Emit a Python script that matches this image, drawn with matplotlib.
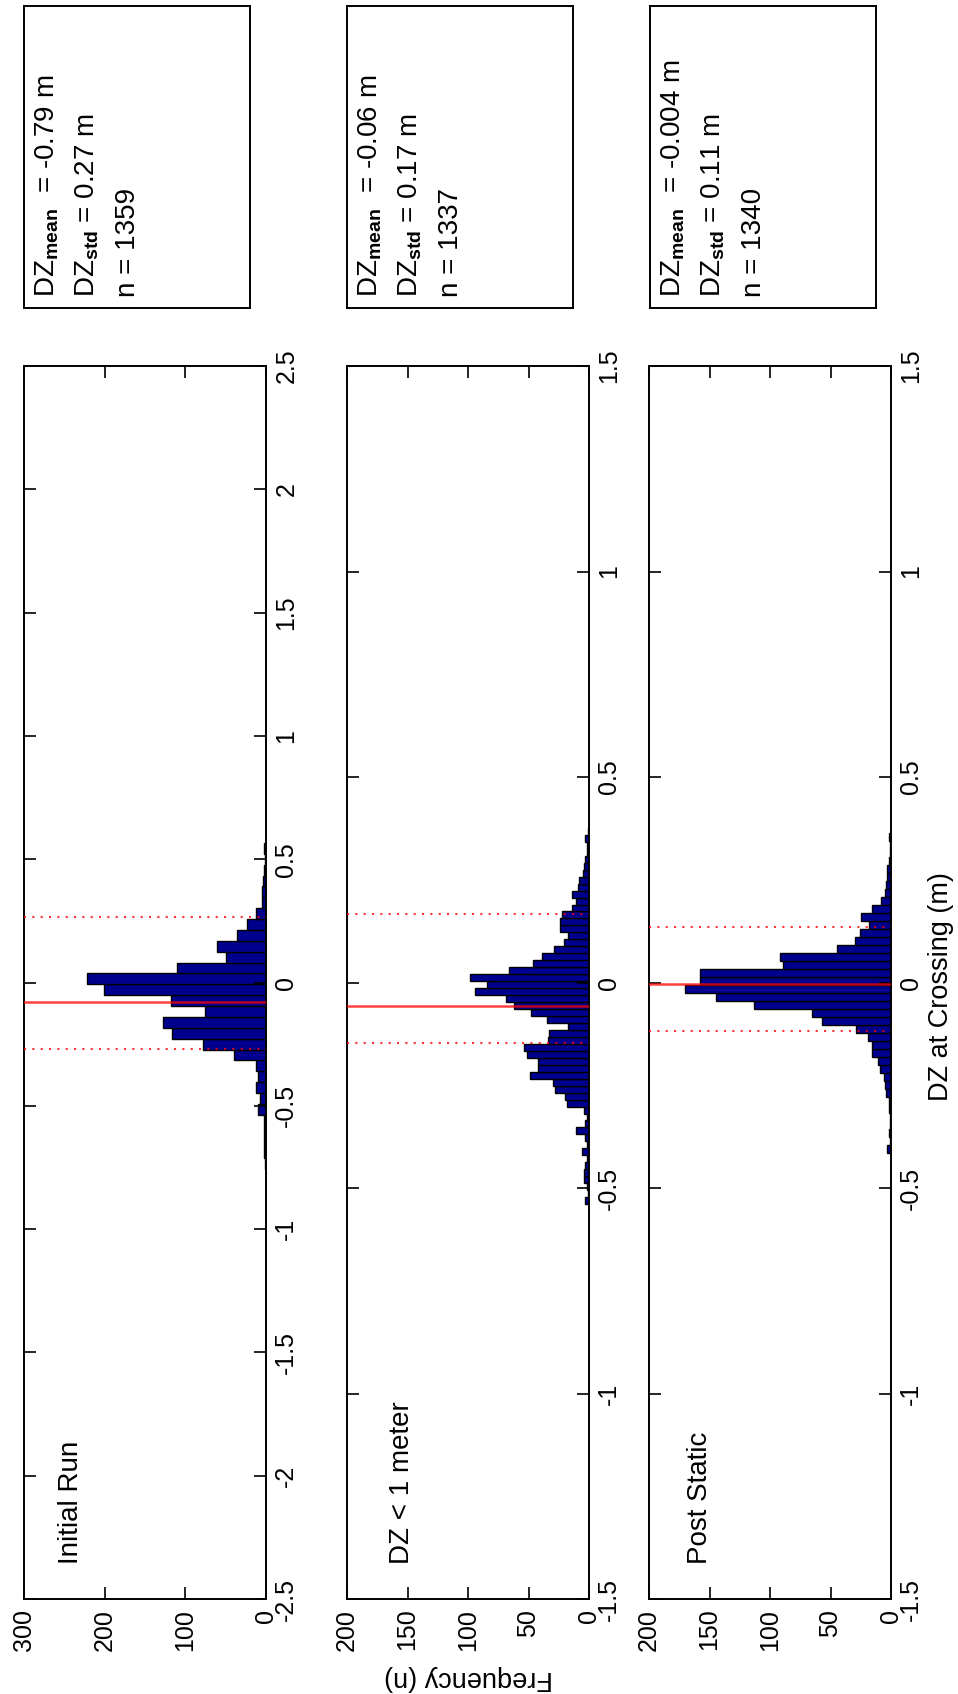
import matplotlib
matplotlib.use("Agg")
import matplotlib.pyplot as plt
import numpy as np

plt.rcParams["font.family"] = ["Liberation Sans", "DejaVu Sans"]
plt.rcParams["mathtext.fontset"] = "custom"
plt.rcParams["mathtext.rm"] = "Liberation Sans"
plt.rcParams["mathtext.bf"] = "Liberation Sans:bold"
plt.rcParams["axes.unicode_minus"] = False

# histogram data, 100 bins per run (counts listed from the first non-empty bin upward)
titles = ["Initial Run", "DZ < 1 meter", "Post Static"]
bin_lo = [-2.433, -0.9968, -1.0002]
bin_width = [0.0441, 0.01695, 0.0195]
first_bin = [38, 27, 30]
counts_initial = [1, 2, 3, 3, 3, 10, 8, 13, 10, 13, 40, 78, 116, 128, 76, 118, 201, 222,
                  110, 49, 61, 36, 23, 13, 5, 5, 4, 2, 1, 2]
counts_dz1 = [3, 1, 2, 4, 4, 3, 2, 6, 2, 3, 11, 3, 2, 4,
              18, 20, 28, 30, 49, 42, 42, 51, 54, 34, 33, 17, 35, 48, 62, 69, 94, 84, 98,
              66, 46, 39, 29, 21, 17, 24, 24, 22, 14, 11, 14, 9, 8,
              5, 4, 3, 2, 2, 3, 1]
counts_post = [3, 1, 2, 1, 1, 2, 2,
               4, 5, 6, 9, 11, 16, 16, 19, 29, 57, 65, 113, 145, 170, 158, 158, 89, 92,
               45, 30, 26, 18, 25, 16, 8,
               5, 4, 3, 3, 2, 1, 1, 2]
all_counts = [counts_initial, counts_dz1, counts_post]

mean_line = [-0.079, -0.057, -0.004]
std_lines = [(0.264, -0.271), (0.167, -0.146), (0.136, -0.117)]

mean_txt = ["-0.79", "-0.06", "-0.004"]
std_txt = ["0.27", "0.17", "0.11"]
n_txt = ["1359", "1337", "1340"]

freq_max = [300, 200, 200]
freq_ticks = [[0, 100, 200, 300], [0, 50, 100, 150, 200], [0, 50, 100, 150, 200]]
dz_lim = [2.5, 1.5, 1.5]
dz_ticks = [[-2.5, -2, -1.5, -1, -0.5, 0, 0.5, 1, 1.5, 2, 2.5],
            [-1.5, -1, -0.5, 0, 0.5, 1, 1.5],
            [-1.5, -1, -0.5, 0, 0.5, 1, 1.5]]

W, H = 958, 1694
fig = plt.figure(figsize=(W / 100, H / 100), dpi=100)


def px_rect(x0, y0, x1, y1):
    return [x0 / W, 1 - y1 / H, (x1 - x0) / W, (y1 - y0) / H]


panel_x = [24, 347, 649]
box_x = [24, 347, 650]
title_pos = [0.194, 0.227, 0.211]

for i in range(3):
    ax = fig.add_axes(px_rect(panel_x[i], 366, panel_x[i] + 242, 1599))
    full = np.zeros(100)
    c = all_counts[i]
    full[first_bin[i]:first_bin[i] + len(c)] = c
    centers = bin_lo[i] + bin_width[i] * (np.arange(100) + 0.5)
    ax.barh(centers, full, height=bin_width[i], color="#00008f",
            edgecolor="black", linewidth=1.0)
    ax.set_xlim(freq_max[i], 0)
    ax.set_ylim(-dz_lim[i], dz_lim[i])
    ax.axhline(mean_line[i], color="red", alpha=0.75, lw=1.8, zorder=3)
    for s in std_lines[i]:
        ax.axhline(s, color="red", alpha=0.8, lw=1.5, ls=(0, (1, 3)), zorder=3)

    ax.set_xticks(freq_ticks[i])
    ax.set_xticklabels([str(t) for t in freq_ticks[i]])
    ax.set_yticks(dz_ticks[i])
    ax.set_yticklabels(["%g" % t for t in dz_ticks[i]])
    ax.tick_params(axis="x", direction="in", top=True, bottom=True, length=8.5,
                   width=1.2, labelsize=18, labelrotation=90, pad=7)
    ax.tick_params(axis="y", direction="in", left=True, right=True, labelleft=False,
                   labelright=True, length=8.5, width=1.2, labelsize=18,
                   labelrotation=90, pad=6)
    for lbl in ax.get_yticklabels():
        lbl.set_va("center")
    for sp in ax.spines.values():
        sp.set_linewidth(1.4)

    ax.text(title_pos[i], 0.028, titles[i], transform=ax.transAxes, rotation=90,
            ha="center", va="bottom", fontsize=20)

    # stats box
    bx = fig.add_axes(px_rect(box_x[i], 6, box_x[i] + 226, 308))
    bx.set_xticks([])
    bx.set_yticks([])
    for sp in bx.spines.values():
        sp.set_linewidth(1.4)
    lines = [r"DZ$_{\mathbf{mean}}$  = " + mean_txt[i] + " m",
             r"DZ$_{\mathbf{std}}$ = " + std_txt[i] + " m",
             "n = " + n_txt[i]]
    offs = [23, 63, 104]
    for txt, off in zip(lines, offs):
        bx.text(off / 226, 0.036, txt, transform=bx.transAxes, rotation=90,
                ha="center", va="bottom", fontsize=20)

fig.text(469 / W, 1 - 1678 / H, "Frequency (n)", rotation=180, ha="center",
         va="center", fontsize=19.5)
fig.text(941 / W, 1 - 987 / H, "DZ at Crossing (m)", rotation=90, ha="center",
         va="center", fontsize=19.5)

fig.savefig("out.png", dpi=100)
